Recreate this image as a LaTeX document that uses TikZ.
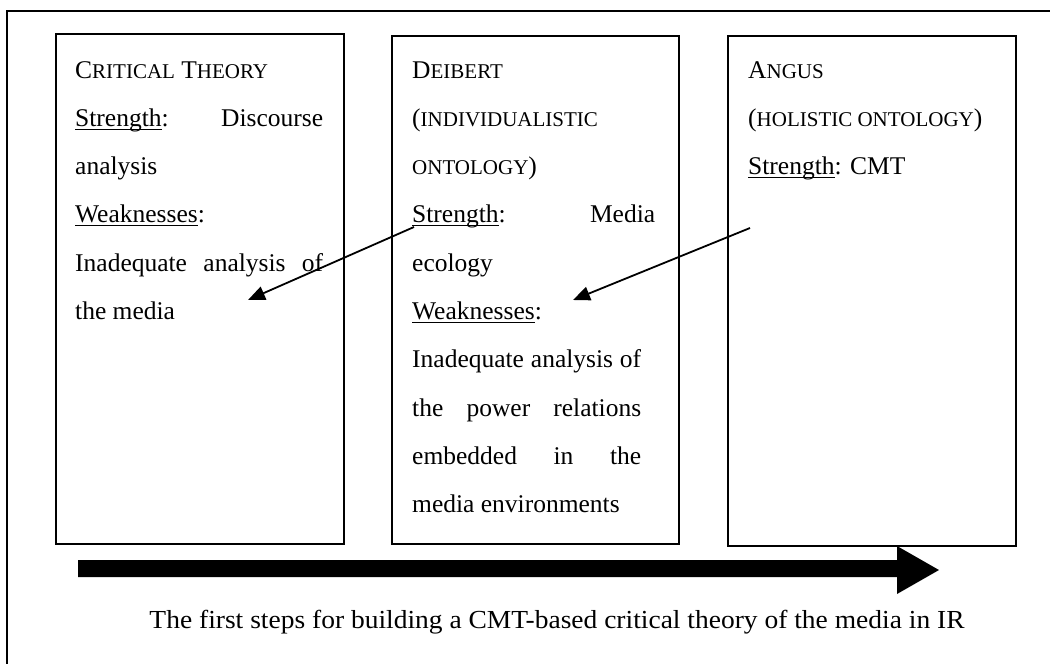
\documentclass[tikz,border=0pt]{standalone}
\usepackage{graphicx}
\usepackage{fontspec}
\setmainfont{Liberation Serif}
\usetikzlibrary{arrows.meta}
\newcommand\smc[1]{{\fontsize{21}{21}\selectfont #1}}
\newcommand\myul[1]{\setbox0\hbox{#1}\rlap{\rule[-3.5pt]{\wd0}{1.3pt}}\box0}
\begin{document}
\begin{tikzpicture}[x=1pt,y=-1pt,
  box/.style={draw, line width=1.6pt, inner sep=0pt, anchor=north west},
  txt/.style={anchor=base west, inner sep=0pt, font=\fontsize{25.5}{48.3}\selectfont},
  conn/.style={line width=1.8pt, -{Triangle[length=17pt,width=14pt]}},
  frame/.style={line width=1.5pt}]
\useasboundingbox (0,0) rectangle (1050,664);
\fill[white] (0,0) rectangle (1050,664);
% outer frame (cut by the page edges)
\coordinate (fbl) at (7,664);
\coordinate (ftl) at (7,11);
\coordinate (ftr) at (1050,11);
\draw[frame] (fbl) -- (ftl) -- (ftr);
% boxes
\node[box, minimum width=288pt, minimum height=510pt] (ct) at (55,33) {};
\node[box, minimum width=287pt, minimum height=508pt] (db) at (391,35) {};
\node[box, minimum width=288pt, minimum height=510pt] (an) at (727,35) {};
% texts
\node[txt] (ctt) at (75,78) {\parbox[t]{248pt}{%
C\smc{RITICAL} T\smc{HEORY}\\
\myul{Strength}:\hfill Discourse\\
analysis\\
\myul{Weaknesses}:\\
\makebox[\linewidth][s]{Inadequate analysis of}\\
the media}};
\node[txt] (dbt) at (412,78) {\parbox[t]{229pt}{%
D\smc{EIBERT}\\
(\smc{INDIVIDUALISTIC}\\
\smc{ONTOLOGY})\\
\makebox[243pt][s]{\myul{Strength}:\hfill Media}\\
ecology\\
\myul{Weaknesses}:\\
\makebox[\linewidth][s]{Inadequate analysis of}\\
\makebox[\linewidth][s]{the power relations}\\
\makebox[\linewidth][s]{embedded in the}\\
media environments}};
\node[txt] (ant) at (748,78) {\parbox[t]{250pt}{%
A\smc{NGUS}\\
(\smc{HOLISTIC ONTOLOGY})\\
\myul{Strength}: CMT}};
% thin arrows
\coordinate (s1) at (414,227);
\coordinate (t1) at (248,300);
\coordinate (s2) at (750,228);
\coordinate (t2) at (573,300);
\draw[conn] (s1) -- (t1);
\draw[conn] (s2) -- (t2);
% big arrow
\fill (78,560) -- (897,560) -- (897,546) -- (939,570) -- (897,594) -- (897,577) -- (78,577) -- cycle;
% caption
\node[anchor=base, inner sep=0pt, font=\fontsize{26}{30}\selectfont] (cap) at (557,628)
  {\resizebox{815pt}{\height}{The first steps for building a CMT-based critical theory of the media in IR}};
\end{tikzpicture}
\end{document}
